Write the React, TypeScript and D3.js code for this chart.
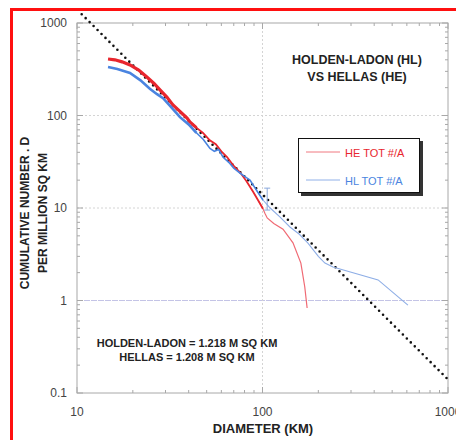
import React from "react";
import * as d3 from "d3";

// ---- data ----
const heDiam = [14.7, 16, 17.5, 19.3, 21.5, 23.8, 26, 28, 30.5, 32.9, 36, 39.2, 40.6, 44, 47.8, 52, 56, 60, 64.4, 70, 76, 82, 89, 95, 100.6, 103, 106, 115, 129, 146, 161, 169, 174];
const heCount = [408, 400, 380, 352, 310, 261, 222, 189, 158, 130, 110, 94, 85, 74, 64.7, 54, 49, 41, 35.6, 28.5, 24, 19.5, 15, 12, 9.8, 8.8, 7.8, 6.8, 5.9, 4.2, 2.54, 1.4, 0.83];

const hlDiam = [14.7, 16.5, 19.3, 22, 24.7, 27, 29.1, 32, 35.9, 40, 44, 48, 52.1, 55, 58, 61.2, 66, 70, 75.6, 80, 85.6, 92, 100.6, 110, 124, 140.6, 158, 175.8, 200, 217, 240, 420, 608];
const hlCount = [334, 318, 288, 240, 195, 170, 154, 125, 96, 80, 65, 55, 44, 41, 43, 35.6, 31, 27, 23.9, 22, 20.1, 16, 12.2, 10, 8.0, 6.23, 5.2, 4.18, 3.0, 2.54, 2.3, 1.67, 0.89];

const refDiam = [10.6, 1000];
const refCount = [1245, 0.14];

const errDiam = [106];
const errLow = [9.5];
const errHigh = [16.4];

const xTickValues = [10, 100, 1000];
const yTickValues = [0.1, 1, 10, 100, 1000];
const xTickLabels = ["10", "100", "1000"];
const yTickLabels = ["0.1", "1", "10", "100", "1000"];

const seriesNames = ["HE TOT #/A", "HL TOT #/A"];
const titleLines = ["HOLDEN-LADON (HL)", "VS HELLAS (HE)"];
const areaNotes = ["HOLDEN-LADON = 1.218 M SQ KM", "HELLAS = 1.208 M SQ KM"];

const W = 456, H = 440;
const M = { left: 77, right: 448, top: 23, bottom: 393 };
const FONT = "Liberation Sans, Arial, sans-serif";

export default function App() {
  const x = d3.scaleLog().domain([10, 1000]).range([M.left, M.right]);
  const y = d3.scaleLog().domain([0.1, 1000]).range([M.bottom, M.top]);

  const line = d3
    .line<[number, number]>()
    .x((d) => x(d[0]))
    .y((d) => y(d[1]))
    .curve(d3.curveLinear);

  const he: [number, number][] = heDiam.map((d, i) => [d, heCount[i]]);
  const hl: [number, number][] = hlDiam.map((d, i) => [d, hlCount[i]]);
  const ref: [number, number][] = refDiam.map((d, i) => [d, refCount[i]]);

  const minorX: number[] = [];
  for (const dec of [10, 100]) for (let k = 2; k <= 9; k++) minorX.push(dec * k);
  const minorY: number[] = [];
  for (const dec of [0.1, 1, 10, 100]) for (let k = 2; k <= 9; k++) minorY.push(dec * k);

  const axisColor = "#a8a8a8";
  const red = "#e8262e";
  const blue = "#4a84e0";

  const seg = (pts: [number, number][], lo: number, hi: number) =>
    line(pts.filter((p) => p[0] >= lo && p[0] <= hi)) || "";

  return (
    <svg width={W} height={H} style={{ position: "absolute", left: 0, top: 0, background: "#fff" }} fontFamily={FONT}>
      <rect x={0} y={0} width={W} height={H} fill="#fff" />
      {/* red outer border */}
      <rect x={11.5} y={9.5} width={W + 20} height={H + 20} fill="none" stroke="#ff1010" strokeWidth={3} />

      {/* grid */}
      {[1, 10, 100].map((v) => (
        <line key={"gy" + v} x1={M.left} x2={M.right} y1={y(v)} y2={y(v)}
          stroke={v === 1 ? "#c4c4e6" : "#d4d4d4"} strokeWidth={1} strokeDasharray={v === 1 ? "6 1" : "2 2"} />
      ))}
      <line x1={x(100)} x2={x(100)} y1={M.top} y2={M.bottom} stroke="#d4d4d4" strokeDasharray="2 2" />

      {/* frame */}
      <rect x={M.left} y={M.top} width={M.right - M.left} height={M.bottom - M.top} fill="none" stroke={axisColor} strokeWidth={1} />

      {/* ticks */}
      {minorX.map((v) => (
        <g key={"mx" + v} stroke={axisColor}>
          <line x1={x(v)} x2={x(v)} y1={M.bottom} y2={M.bottom - 3} />
          <line x1={x(v)} x2={x(v)} y1={M.top} y2={M.top + 3} />
        </g>
      ))}
      {xTickValues.map((v) => (
        <g key={"Mx" + v} stroke={axisColor}>
          <line x1={x(v)} x2={x(v)} y1={M.bottom} y2={M.bottom - 6} />
          <line x1={x(v)} x2={x(v)} y1={M.top} y2={M.top + 6} />
        </g>
      ))}
      {minorY.map((v) => (
        <g key={"my" + v} stroke={axisColor}>
          <line x1={M.left} x2={M.left + 3} y1={y(v)} y2={y(v)} />
          <line x1={M.right} x2={M.right - 3} y1={y(v)} y2={y(v)} />
        </g>
      ))}
      {yTickValues.map((v) => (
        <g key={"My" + v} stroke={axisColor}>
          <line x1={M.left} x2={M.left + 6} y1={y(v)} y2={y(v)} />
          <line x1={M.right} x2={M.right - 6} y1={y(v)} y2={y(v)} />
        </g>
      ))}

      {/* tick labels */}
      {xTickValues.map((v, i) => (
        <text key={"xl" + v} x={x(v)} y={416} textAnchor="middle" fontSize={12} fill="#444">{xTickLabels[i]}</text>
      ))}
      {yTickValues.map((v, i) => (
        <text key={"yl" + v} x={67} y={y(v) + 4} textAnchor="end" fontSize={12} fill="#444">{yTickLabels[i]}</text>
      ))}

      {/* axis titles */}
      <text x={263} y={433} textAnchor="middle" fontSize={13} fontWeight="bold" fill="#222">DIAMETER (KM)</text>
      <text transform="translate(29,213) rotate(-90)" textAnchor="middle" fontSize={12} fontWeight="bold" fill="#222">CUMULATIVE NUMBER . D</text>
      <text transform="translate(47,213) rotate(-90)" textAnchor="middle" fontSize={12} fontWeight="bold" fill="#222">PER MILLION SQ KM</text>

      {/* reference dotted line */}
      <path d={line(ref) || ""} fill="none" stroke="#111" strokeWidth={2.6} strokeDasharray="0 5.6" strokeLinecap="round" />

      {/* series: HE (red) */}
      <path d={seg(he, 95, 1000)} fill="none" stroke="#f06a74" strokeWidth={1.2} />
      <path d={seg(he, 40, 101)} fill="none" stroke={red} strokeWidth={1.8} />
      <path d={seg(he, 0, 45)} fill="none" stroke={red} strokeWidth={3.2} />
      {/* series: HL (blue) */}
      <path d={seg(hl, 92, 1000)} fill="none" stroke="#8eaee6" strokeWidth={1.1} />
      <path d={seg(hl, 40, 101)} fill="none" stroke={blue} strokeWidth={1.6} />
      <path d={seg(hl, 0, 45)} fill="none" stroke={blue} strokeWidth={2.6} />

      {/* error bars */}
      {errDiam.map((d, i) => (
        <g key={"err" + i} stroke="#8aa8dc" strokeWidth={1}>
          <line x1={x(d)} x2={x(d)} y1={y(errLow[i])} y2={y(errHigh[i])} />
          <line x1={x(d) - 3} x2={x(d) + 3} y1={y(errLow[i])} y2={y(errLow[i])} />
          <line x1={x(d) - 3} x2={x(d) + 3} y1={y(errHigh[i])} y2={y(errHigh[i])} />
        </g>
      ))}

      {/* title */}
      {titleLines.map((t, i) => (
        <text key={"t" + i} x={357} y={64 + i * 17} textAnchor="middle" fontSize={12.5} fontWeight="bold" fill="#222">{t}</text>
      ))}

      {/* legend */}
      <rect x={301} y={141} width={122} height={55} fill="#333" />
      <rect x={298.5} y={138.5} width={121} height={54} fill="#fff" stroke="#111" strokeWidth={1} />
      <line x1={306} x2={340} y1={152} y2={152} stroke="#f07880" strokeWidth={1} />
      <text x={345} y={157} fontSize={11} fill={red}>{seriesNames[0]}</text>
      <line x1={306} x2={340} y1={180} y2={180} stroke="#90b0e8" strokeWidth={1} />
      <text x={345} y={185} fontSize={11} fill={blue}>{seriesNames[1]}</text>

      {/* area notes */}
      {areaNotes.map((t, i) => (
        <text key={"n" + i} x={187} y={347 + i * 14} textAnchor="middle" fontSize={11} fontWeight="bold" fill="#222">{t}</text>
      ))}
    </svg>
  );
}
